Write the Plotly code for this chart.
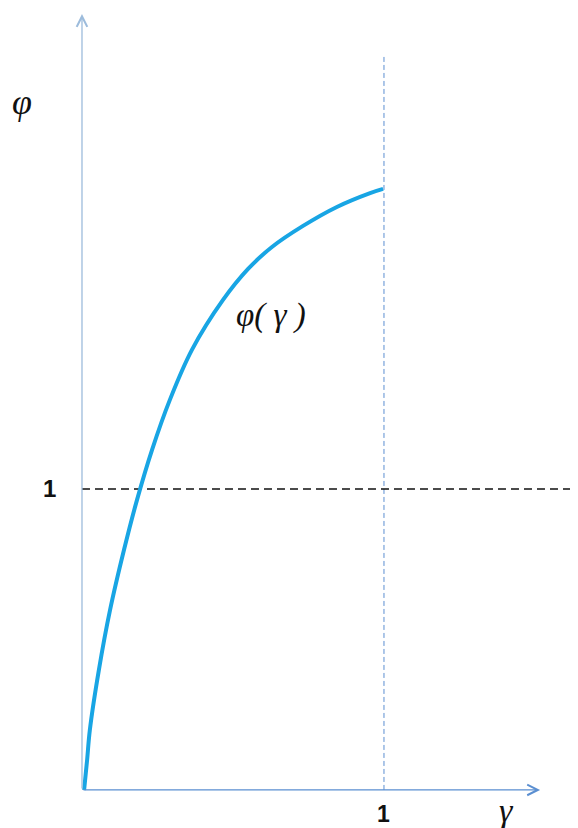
import plotly.graph_objects as go

# --- datos ---
gamma_vals = [0.007, 0.017, 0.026, 0.056, 0.093, 0.139, 0.182, 0.232, 0.291, 0.364,
              0.467, 0.550, 0.629, 0.732, 0.844, 0.954, 0.997]
phi_vals = [0.000, 0.100, 0.199, 0.399, 0.598, 0.797, 0.963, 1.130, 1.296, 1.462,
            1.628, 1.731, 1.804, 1.874, 1.937, 1.983, 1.997]

ref_gamma = 1      # línea vertical punteada
ref_phi = 1        # línea horizontal punteada
tick_gamma_label = "1"
tick_phi_label = "1"

# extensión de los ejes dibujados (unidades de datos)
X_END = 1.517
Y_END = 2.578
VLINE_TOP = 2.442
HLINE_END = 1.70

SERIF = "Liberation Serif, Times New Roman, serif"
SANS = "Liberation Sans, Arial, sans-serif"

fig = go.Figure()

# curva phi(gamma)
fig.add_trace(go.Scatter(
    x=gamma_vals, y=phi_vals,
    mode="lines",
    line=dict(color="#18a5e4", width=4, shape="spline", smoothing=1.0),
    hoverinfo="skip",
    showlegend=False,
))

# líneas de referencia
fig.add_shape(type="line", x0=ref_gamma, x1=ref_gamma, y0=0, y1=VLINE_TOP,
              line=dict(color="#5b8fd1", width=1, dash="5px,3px"), layer="below")
fig.add_shape(type="line", x0=0, x1=HLINE_END, y0=ref_phi, y1=ref_phi,
              line=dict(color="#111111", width=1.5, dash="8px,5px"), layer="below")

# ejes con flecha
fig.add_annotation(x=X_END, y=0, ax=0, ay=0, xref="x", yref="y", axref="x", ayref="y",
                   text="", showarrow=True, arrowhead=5, arrowsize=1.6, arrowwidth=1.3,
                   arrowcolor="#5b8fd1", standoff=0)
fig.add_annotation(x=0, y=Y_END, ax=0, ay=0, xref="x", yref="y", axref="x", ayref="y",
                   text="", showarrow=True, arrowhead=5, arrowsize=1.6, arrowwidth=1.3,
                   arrowcolor="#9dbcdc", standoff=0)

# textos
fig.add_annotation(x=-0.199, y=2.286, text="<i>φ</i>", showarrow=False,
                   font=dict(family=SERIF, size=36, color="#111111"))
fig.add_annotation(x=1.407, y=-0.068, text="<i>γ</i>", showarrow=False,
                   font=dict(family=SERIF, size=34, color="#111111"))
fig.add_annotation(x=0.626, y=1.575, text="<i>φ( γ )</i>", showarrow=False,
                   font=dict(family=SERIF, size=33, color="#111111"))
fig.add_annotation(x=-0.106, y=ref_phi, text="<b>%s</b>" % tick_phi_label, showarrow=False,
                   font=dict(family=SANS, size=24, color="#111111"))
fig.add_annotation(x=ref_gamma, y=-0.03, yanchor="top", text="<b>%s</b>" % tick_gamma_label,
                   showarrow=False, font=dict(family=SANS, size=23, color="#111111"))

# el cuerpo de la página deja 8 px de margen: se compensa en los rangos
fig.update_layout(
    width=578, height=828,
    margin=dict(l=0, r=0, t=0, b=0),
    paper_bgcolor="white", plot_bgcolor="white",
    xaxis=dict(range=[-0.245, 1.669], visible=False, fixedrange=True),
    yaxis=dict(range=[-0.153, 2.598], visible=False, fixedrange=True),
    showlegend=False,
)

fig.write_html("out.html")
